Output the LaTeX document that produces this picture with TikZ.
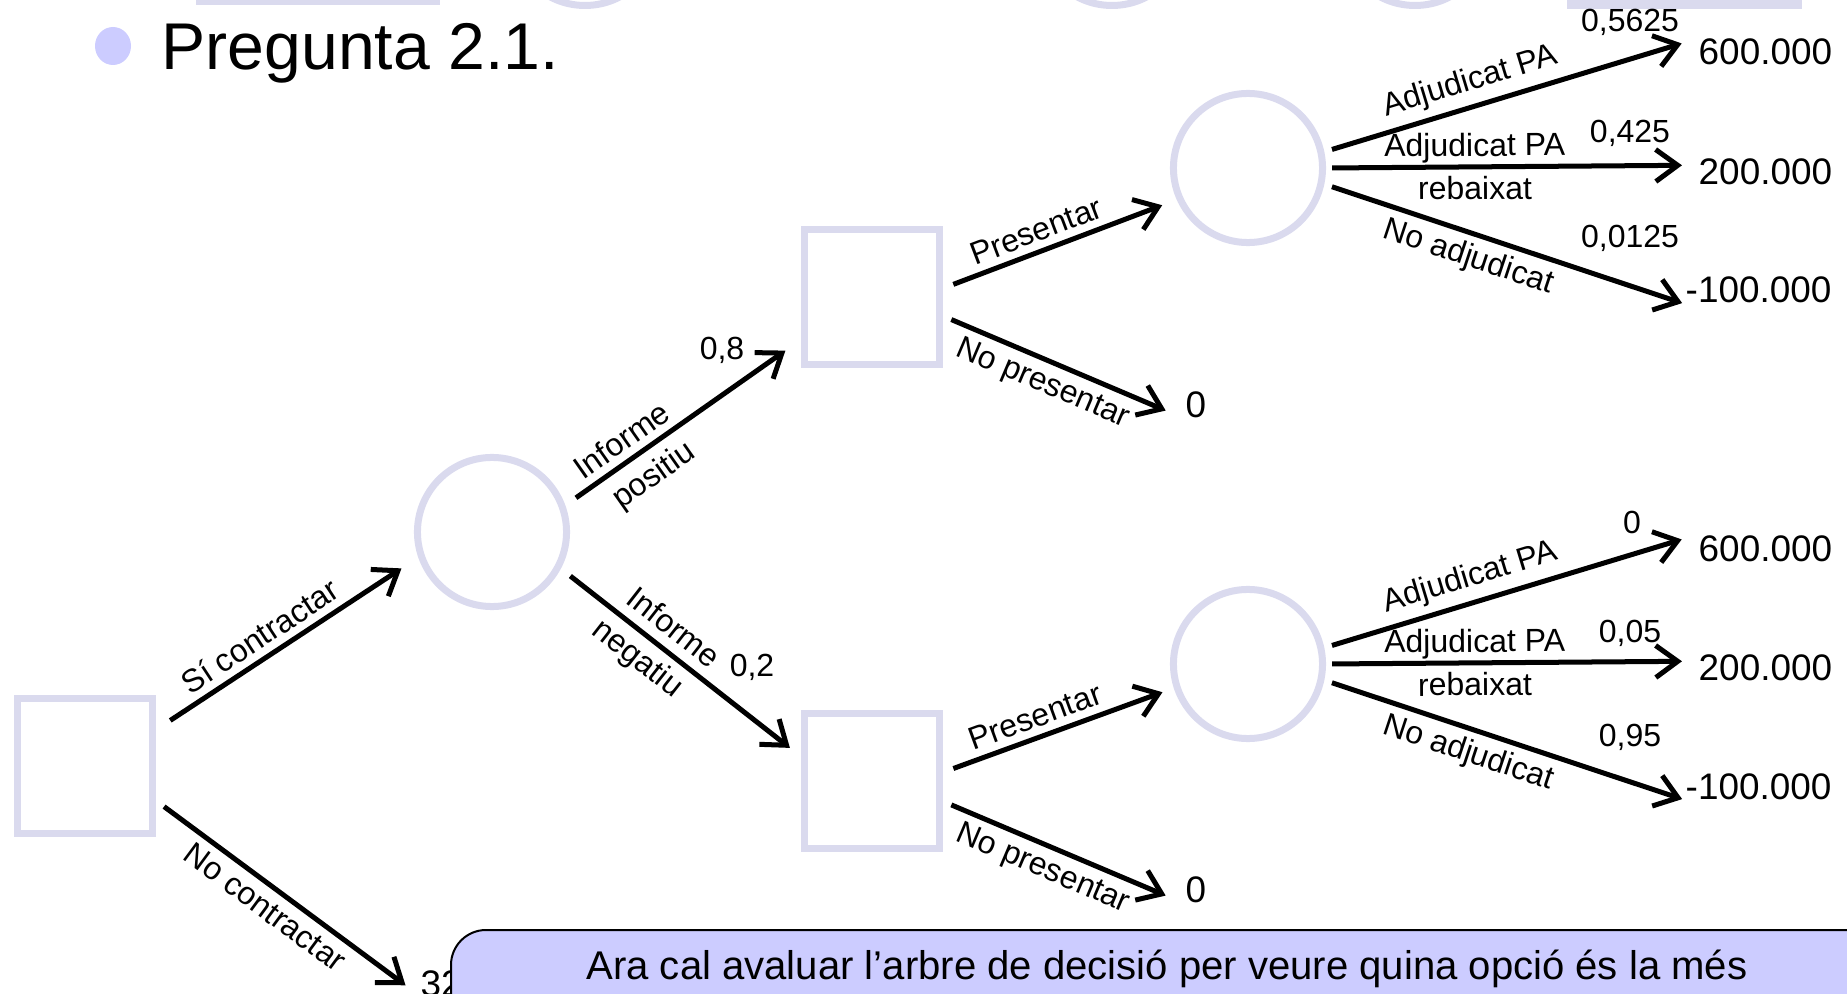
\documentclass[tikz,border=0pt]{standalone}
\usepackage{fontspec}
\setmainfont{Liberation Sans}
\usetikzlibrary{arrows.meta}
\definecolor{nodeline}{RGB}{218,218,238}
\definecolor{boxfill}{RGB}{204,204,255}

\begin{document}
\begin{tikzpicture}[x=0.01cm,y=-0.01cm,
  decision/.style={draw=nodeline,line width=0.07cm,minimum size=1.35cm,inner sep=0pt},
  chance/.style={draw=nodeline,line width=0.07cm,circle,minimum size=1.49cm,inner sep=0pt},
  payoff/.style={font=\fontsize{10.5}{12.6}\selectfont,inner sep=0pt},
  prob/.style={font=\fontsize{9.1}{10.9}\selectfont,inner sep=0pt},
  lbl/.style={font=\fontsize{9.1}{10.9}\selectfont,sloped,inner sep=0.07cm},
  branch/.style={line width=0.05cm,-{Straight Barb[length=0.22cm,width=0.32cm]}}]
\useasboundingbox (0,0) rectangle (1847,994);
\clip (0,0) rectangle (1847,994);

% shapes cut off by the top edge
\draw[nodeline,line width=0.07cm] (200,-100) rectangle (436,2);
\foreach \cx in {585,1112,1415}
  \draw[nodeline,line width=0.07cm] (\cx,-69) circle [radius=74.5];
\fill[nodeline] (1567,-20) rectangle (1802,9);

% title
\fill[boxfill] (113,46) ellipse [x radius=18,y radius=19];
\node[anchor=base west,inner sep=0pt,font=\fontsize{18.8}{22}\selectfont] (title) at (161,70) {Pregunta 2.1.};

% decision and chance nodes
\node[decision] (d0) at (85,766) {};
\node[chance] (c1) at (492,532) {};
\node[decision] (d1) at (872,297) {};
\node[decision] (d2) at (872,781) {};
\node[chance] (c2) at (1248,168) {};
\node[chance] (c3) at (1248,664) {};

% pay-offs
\node[payoff,anchor=base west] (t0) at (420,996) {32};
\node[payoff] (e1) at (1196,405) {0};
\node[payoff] (e2) at (1196,890) {0};
\node[payoff,anchor=base west] (v1) at (1698,65) {600.000};
\node[payoff,anchor=base west] (v2) at (1698,185) {200.000};
\node[payoff,anchor=base west] (v3) at (1685,303) {-100.000};
\node[payoff,anchor=base west] (v4) at (1698,561) {600.000};
\node[payoff,anchor=base west] (v5) at (1698,681) {200.000};
\node[payoff,anchor=base west] (v6) at (1685,799) {-100.000};

% branches
\draw[branch,shorten <=0.17cm,shorten >=0.2cm] (d0.27.6) -- node[lbl,above,pos=.44] {Sí contractar} (c1.199.7);
\draw[branch,shorten <=0.1cm,shorten >=0.18cm] (d0.-26) -- node[lbl,below,pos=.46] {No contractar} (t0.base west);
\draw[branch,shorten <=0.13cm,shorten >=0.19cm] (c1.20.6) -- node[lbl,above,pos=.29] {Informe} node[lbl,below,pos=.31,inner sep=0.1cm] {positiu} (d1.211.8);
\draw[branch,shorten <=0.12cm,shorten >=0.14cm] (c1.-28.6) -- node[lbl,above,pos=.41,inner sep=0.1cm] {Informe} node[lbl,below,pos=.38] {negatiu} (d2.161.6);
\draw[branch,shorten <=0.11cm,shorten >=0.155cm] (d1.7.6) -- node[lbl,above,pos=.43] {Presentar} (c2.204.6);
\draw[branch,shorten <=0.09cm,shorten >=0.21cm] (d1.-15.4) -- node[lbl,below,pos=.45] {No presentar} (e1.south west);
\draw[branch,shorten <=0.11cm,shorten >=0.12cm] (d2.7) -- node[lbl,above,pos=.43] {Presentar} (c3.198.8);
\draw[branch,shorten <=0.09cm,shorten >=0.21cm] (d2.-16.4) -- node[lbl,below,pos=.45] {No presentar} (e2.south west);
\foreach \ch/\va/\vb/\vc in {c2/v1/v2/v3,c3/v4/v5/v6} {
  \draw[branch,shorten <=0.08cm,shorten >=0.17cm] (\ch.12.1) -- node[lbl,above,pos=.41] {Adjudicat PA} (\va.north west);
  \draw[branch,shorten <=0.06cm,shorten >=0.16cm] (\ch.-0.7) -- node[lbl,above,pos=.4,inner sep=0.015cm] {Adjudicat PA} node[lbl,below,pos=.4] {rebaixat} (\vb.174);
  \draw[branch,shorten <=0.08cm,shorten >=0.03cm] (\ch.-12.1) -- node[lbl,below,pos=.42] {No adjudicat} (\vc.south west);
}

% probabilities
\node[prob] (p1) at (1630,22) {0,5625};
\node[prob] (p2) at (1630,133) {0,425};
\node[prob] (p3) at (1630,238) {0,0125};
\node[prob] (p4) at (1632,522) {0};
\node[prob] (p5) at (1630,633) {0,05};
\node[prob] (p6) at (1630,737) {0,95};
\node[prob] (p7) at (722,350) {0,8};
\node[prob] (p8) at (752,667) {0,2};

% note box
\draw[fill=boxfill,line width=0.02cm,rounded corners=0.35cm] (451,1100) -- (451,930) -- (1950,930) -- (1950,1100);
\node[anchor=base,inner sep=0pt,font=\fontsize{11.4}{13.7}\selectfont] (note) at (1167,979) {Ara cal avaluar l’arbre de decisió per veure quina opció és la més};
\end{tikzpicture}
\end{document}
